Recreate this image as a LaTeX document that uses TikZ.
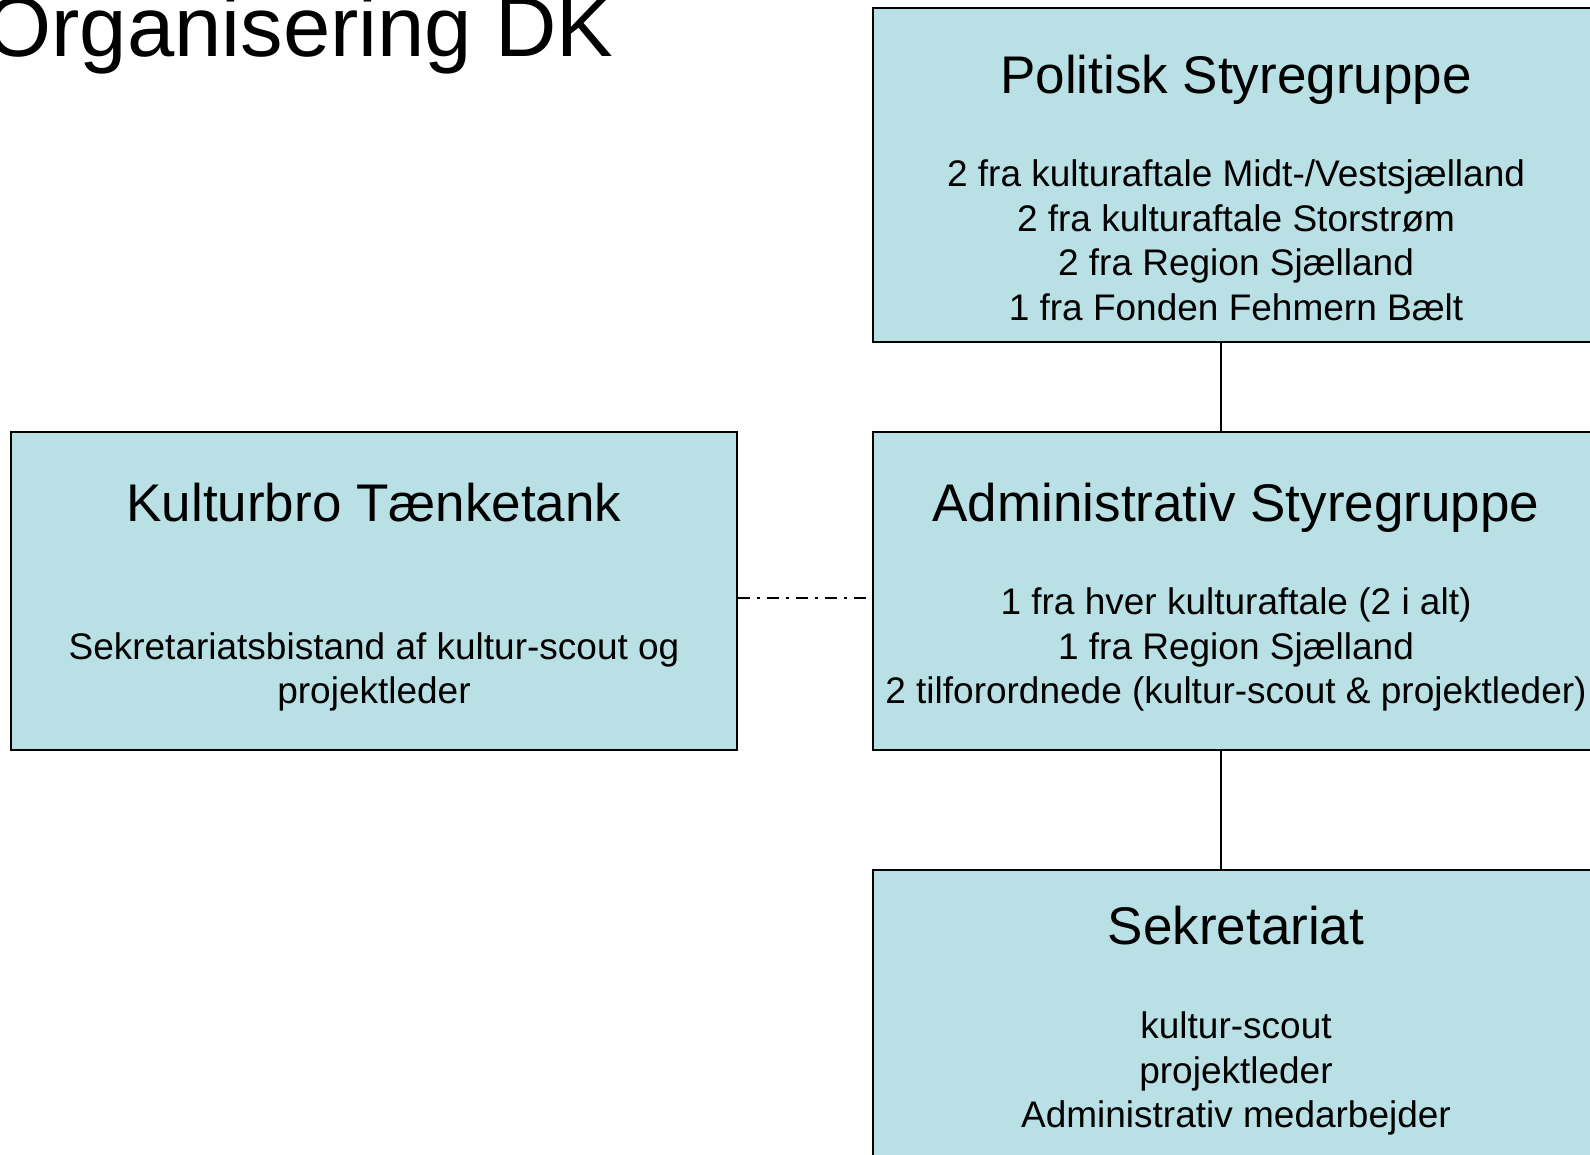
\documentclass[tikz,border=0pt]{standalone}
\usepackage{fontspec}
\setmainfont{Liberation Sans}
\definecolor{boxfill}{RGB}{185,224,228}
\tikzset{
  orgbox/.style={draw=black, fill=boxfill, line width=2.8pt, rectangle, inner sep=0pt},
  conn/.style={draw=black, line width=2.8pt},
  dashdotline/.style={draw=black, line width=2pt, dash pattern=on 12pt off 7pt on 3pt off 7pt},
  headtxt/.style={anchor=base, inner sep=0pt, font=\fontsize{53}{64}\selectfont},
  bodytxt/.style={anchor=base, inner sep=0pt, font=\fontsize{37}{44.5}\selectfont},
  titletxt/.style={anchor=base east, inner sep=0pt, font=\fontsize{85}{100}\selectfont}
}
\begin{document}
\begin{tikzpicture}[x=1pt, y=-1pt]
\useasboundingbox (0,0) rectangle (1590,1154);
\clip (0,0) rectangle (1590,1154);
\fill[white] (0,0) rectangle (1590,1154);

% boxes
\node[orgbox, minimum width=726pt, minimum height=334pt] (pol) at (1236,175) {};
\node[orgbox, minimum width=726pt, minimum height=318pt] (adm) at (1236,591) {};
\node[orgbox, minimum width=726pt, minimum height=318pt] (kb) at (374,591) {};
\node[orgbox, minimum width=726pt, minimum height=320pt] (sek) at (1236,1030) {};

% connectors
\draw[conn] ([xshift=-15pt]pol.south) -- ([xshift=-15pt]adm.north);
\draw[conn] ([xshift=-15pt]adm.south) -- ([xshift=-15pt]sek.north);
\draw[dashdotline] ([yshift=-7pt]kb.east) -- ([yshift=-7pt]adm.west);

% title
\node[titletxt] (title) at (614,56) {Organisering DK};

% Politisk Styregruppe
\node[headtxt] (polh) at (1236,93.3) {Politisk Styregruppe};
\node[bodytxt] (pol1) at (1236,186.6) {2 fra kulturaftale Midt-/Vestsjælland};
\node[bodytxt] (pol2) at (1236,231.2) {2 fra kulturaftale Storstrøm};
\node[bodytxt] (pol3) at (1236,275.8) {2 fra Region Sjælland};
\node[bodytxt] (pol4) at (1236,320.4) {1 fra Fonden Fehmern Bælt};

% Administrativ Styregruppe
\node[headtxt] (admh) at (1236,521.2) {Administrativ Styregruppe};
\node[bodytxt] (adm1) at (1236,614.5) {1 fra hver kulturaftale (2 i alt)};
\node[bodytxt] (adm2) at (1236,659) {1 fra Region Sjælland};
\node[bodytxt] (adm3) at (1236,703.6) {2 tilforordnede (kultur-scout \& projektleder)};

% Kulturbro Taenketank
\node[headtxt] (kbh) at (374,521.2) {Kulturbro Tænketank};
\node[bodytxt] (kb1) at (374,659) {Sekretariatsbistand af kultur-scout og};
\node[bodytxt] (kb2) at (374,703.6) {projektleder};

% Sekretariat
\node[headtxt] (sekh) at (1236,944) {Sekretariat};
\node[bodytxt] (sek1) at (1236,1038.4) {kultur-scout};
\node[bodytxt] (sek2) at (1236,1083) {projektleder};
\node[bodytxt] (sek3) at (1236,1127.6) {Administrativ medarbejder};
\end{tikzpicture}
\end{document}
